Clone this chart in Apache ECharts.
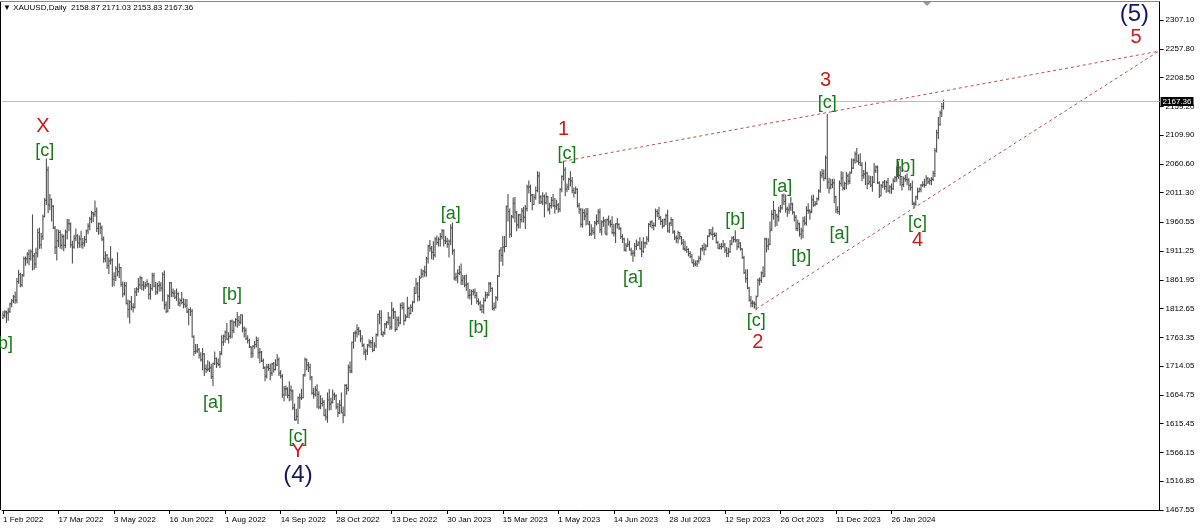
<!DOCTYPE html>
<html>
<head>
<meta charset="utf-8">
<script src="https://cdn.jsdelivr.net/npm/echarts@6/dist/echarts.min.js"></script>
<style>html,body{margin:0;padding:0;background:#fff}#c{width:1200px;height:529px}</style>
</head>
<body>
<div id="c"></div>
<script>
// ---- data ----
const symbolName = 'XAUUSD,Daily';
const xTickLabels = ['1 Feb 2022','17 Mar 2022','3 May 2022','16 Jun 2022','1 Aug 2022','14 Sep 2022','28 Oct 2022','13 Dec 2022','30 Jan 2023','15 Mar 2023','1 May 2023','14 Jun 2023','28 Jul 2023','12 Sep 2023','26 Oct 2023','11 Dec 2023','26 Jan 2024'];
const yTickLabels = ['2307.10','2257.80','2208.50','2159.20','2109.90','2060.60','2011.30','1960.55','1911.25','1861.95','1812.65','1763.35','1714.05','1664.75','1615.45','1566.15','1516.85','1467.55'];
// daily bars [open, high, low, close], one per trading day from 1 Feb 2022
const bars = [
[1797,1808,1795,1801],[1801,1810,1797,1807],[1807,1809,1788,1805],[1805,1814,1792,1808],[1808,1823,1805,1821],
[1821,1829,1815,1826],[1826,1836,1822,1833],[1833,1842,1821,1827],[1827,1865,1822,1859],[1859,1879,1855,1871],
[1871,1874,1849,1853],[1853,1872,1850,1870],[1870,1902,1867,1898],[1898,1902,1886,1898],[1898,1909,1890,1906],
[1906,1914,1887,1898],[1898,1914,1895,1910],[1910,1974,1878,1903],[1903,1908,1879,1889],[1889,1917,1882,1908],
[1908,1950,1900,1943],[1943,1951,1915,1922],[1922,1942,1915,1936],[1936,1974,1930,1970],[1970,2002,1969,1998],
[1998,2070,1990,2050],[2050,2056,1976,1990],[1990,2009,1981,2000],[2000,2001,1962,1988],[1988,1990,1949,1951],
[1951,1954,1906,1918],[1918,1949,1895,1929],[1929,1948,1918,1943],[1943,1947,1915,1921],[1921,1941,1914,1936],
[1936,1939,1911,1921],[1921,1948,1916,1944],[1944,1966,1931,1958],[1958,1966,1945,1958],[1958,1960,1917,1922],
[1922,1929,1890,1918],[1918,1939,1915,1933],[1933,1950,1928,1937],
[1937,1940,1916,1925],[1925,1938,1917,1932],[1932,1946,1917,1923],[1923,1934,1915,1925],[1925,1937,1919,1931],
[1931,1948,1925,1946],[1946,1959,1940,1954],[1954,1970,1947,1966],[1966,1980,1959,1977],[1977,1978,1961,1974],
[1974,1998,1970,1979],[1979,1986,1944,1950],[1950,1960,1939,1958],[1958,1960,1940,1951],[1951,1955,1928,1932],
[1932,1936,1891,1898],[1898,1911,1892,1904],[1904,1906,1881,1886],[1886,1900,1872,1894],[1894,1920,1888,1896],
[1896,1899,1850,1863],[1863,1875,1851,1868],[1868,1885,1860,1881],[1881,1909,1868,1876],[1876,1890,1865,1883],
[1883,1884,1850,1854],[1854,1859,1832,1838],[1838,1858,1835,1852],[1852,1858,1820,1821],[1821,1828,1797,1811],
[1811,1827,1787,1824],[1824,1834,1810,1815],[1815,1822,1806,1815],[1815,1848,1813,1841],[1841,1849,1834,1846],
[1846,1865,1840,1853],[1853,1869,1846,1865],[1865,1867,1844,1853],[1853,1860,1843,1851],[1851,1858,1846,1853],
[1853,1863,1849,1855],[1855,1857,1828,1837],
[1837,1855,1828,1847],[1847,1874,1843,1869],[1869,1874,1849,1851],[1851,1858,1836,1841],[1841,1857,1837,1852],
[1852,1860,1842,1853],[1853,1858,1842,1848],[1848,1875,1825,1871],[1871,1878,1811,1819],[1819,1825,1805,1808],
[1808,1837,1806,1834],[1834,1858,1812,1857],[1857,1858,1832,1840],[1840,1847,1832,1839],[1839,1844,1829,1832],
[1832,1847,1826,1838],[1838,1840,1817,1822],[1822,1830,1816,1827],[1827,1841,1820,1823],[1823,1830,1813,1820],
[1820,1829,1814,1817],[1817,1829,1805,1807],
[1807,1813,1784,1811],[1811,1815,1800,1808],[1808,1812,1763,1764],[1764,1767,1732,1739],[1739,1752,1735,1740],
[1740,1752,1737,1742],[1742,1745,1727,1733],[1733,1738,1722,1725],[1725,1745,1707,1735],[1735,1736,1697,1710],
[1710,1717,1702,1708],[1708,1724,1705,1709],[1709,1722,1704,1711],[1711,1718,1692,1696],[1696,1720,1680,1719],
[1719,1739,1716,1727],[1727,1729,1711,1719],[1719,1727,1714,1717],[1717,1740,1711,1735],[1735,1767,1733,1755],
[1755,1768,1749,1765],
[1765,1775,1754,1772],[1772,1788,1759,1760],[1760,1772,1753,1765],[1765,1793,1761,1791],[1791,1794,1762,1775],
[1775,1792,1771,1789],[1789,1796,1782,1794],[1794,1807,1780,1792],[1792,1800,1783,1789],[1789,1803,1786,1802],
[1802,1802,1772,1779],[1779,1782,1763,1775],[1775,1780,1759,1761],[1761,1767,1753,1758],[1758,1761,1745,1747],
[1747,1748,1728,1736],[1736,1750,1729,1748],[1748,1757,1744,1751],[1751,1765,1746,1758],[1758,1763,1727,1737],
[1737,1745,1719,1738],[1738,1740,1721,1723],[1723,1727,1709,1711],
[1711,1714,1688,1697],[1697,1718,1693,1712],[1712,1718,1706,1710],[1710,1718,1690,1702],[1702,1720,1697,1718],
[1718,1721,1703,1708],[1708,1726,1707,1716],[1716,1735,1714,1725],[1725,1729,1697,1702],[1702,1707,1693,1697],
[1697,1700,1660,1665],[1665,1680,1654,1675],[1675,1681,1663,1675],[1675,1678,1659,1664],[1664,1688,1654,1673],
[1673,1681,1655,1671],[1671,1674,1639,1643],[1643,1650,1621,1622],[1622,1641,1621,1628],[1628,1662,1615,1660],
[1660,1667,1641,1660],[1660,1675,1656,1660],
[1660,1700,1659,1699],[1699,1729,1696,1725],[1725,1727,1707,1716],[1716,1721,1704,1712],[1712,1718,1690,1695],
[1695,1697,1665,1668],[1668,1677,1658,1666],[1666,1680,1662,1673],[1673,1683,1642,1666],[1666,1671,1640,1644],
[1644,1664,1640,1650],[1650,1660,1645,1652],[1652,1656,1628,1630],[1630,1641,1621,1627],[1627,1669,1617,1656],
[1656,1675,1638,1649],[1649,1660,1639,1652],[1652,1674,1650,1665],[1665,1669,1656,1663],[1663,1666,1640,1644],
[1644,1651,1627,1634],
[1634,1656,1632,1647],[1647,1669,1634,1634],[1634,1645,1616,1630],[1630,1683,1628,1681],[1681,1683,1665,1676],
[1676,1717,1671,1712],[1712,1722,1702,1706],[1706,1756,1702,1755],[1755,1772,1744,1771],[1771,1775,1756,1771],
[1771,1786,1763,1777],[1777,1781,1767,1774],[1774,1776,1755,1761],[1761,1767,1747,1750],[1750,1753,1733,1738],
[1738,1744,1724,1740],[1740,1752,1733,1750],[1750,1760,1746,1755],[1755,1759,1745,1754],[1754,1764,1738,1741],
[1741,1755,1740,1749],[1749,1770,1745,1768],
[1768,1804,1765,1803],[1803,1810,1786,1797],[1797,1810,1767,1768],[1768,1774,1764,1771],[1771,1788,1768,1786],
[1786,1791,1779,1789],[1789,1807,1785,1797],[1797,1799,1776,1781],[1781,1824,1777,1810],[1810,1814,1795,1807],
[1807,1809,1773,1777],[1777,1799,1775,1793],[1793,1799,1782,1788],[1788,1822,1786,1818],[1818,1824,1811,1814],
[1814,1823,1784,1792],[1792,1803,1791,1798],[1798,1833,1797,1813],[1813,1816,1796,1804],[1804,1820,1803,1815],
[1815,1826,1807,1824],
[1824,1850,1822,1839],[1839,1865,1838,1855],[1855,1858,1825,1833],[1833,1869,1826,1865],[1865,1881,1865,1872],
[1872,1879,1866,1877],[1877,1886,1867,1875],[1875,1901,1867,1898],[1898,1922,1890,1920],[1920,1930,1910,1916],
[1916,1920,1897,1909],[1909,1928,1896,1904],[1904,1935,1900,1932],[1932,1938,1922,1926],[1926,1935,1919,1931],
[1931,1942,1919,1936],[1936,1949,1931,1946],[1946,1948,1919,1929],[1929,1937,1923,1928],[1928,1934,1917,1923],
[1923,1931,1900,1928],
[1928,1957,1921,1951],[1951,1960,1905,1912],[1912,1915,1861,1865],[1865,1874,1860,1867],[1867,1880,1856,1873],
[1873,1886,1870,1875],[1875,1890,1853,1861],[1861,1870,1853,1865],[1865,1870,1849,1853],[1853,1871,1843,1855],
[1855,1857,1830,1835],[1835,1846,1828,1836],[1836,1845,1819,1842],[1842,1846,1835,1841],[1841,1847,1830,1835],
[1835,1841,1821,1825],[1825,1830,1818,1822],[1822,1826,1809,1811],[1811,1820,1805,1817],[1817,1831,1804,1826],
[1826,1842,1825,1836],[1836,1841,1830,1836],[1836,1858,1834,1855],[1855,1858,1841,1847],[1847,1849,1810,1813],
[1813,1823,1809,1815],[1815,1834,1813,1831],[1831,1870,1826,1868],[1868,1913,1867,1913],[1913,1918,1893,1904],
[1904,1937,1886,1918],[1918,1937,1909,1919],[1919,1989,1918,1988],[1988,2009,1962,1979],[1979,1984,1934,1940],
[1940,1973,1935,1970],[1970,2003,1967,1993],[1993,2004,1960,1978],[1978,1980,1945,1956],[1956,1975,1950,1973],
[1973,1975,1950,1965],[1965,1985,1960,1980],[1980,1987,1960,1969],
[1969,1990,1949,1984],[1984,2025,1979,2021],[2021,2032,2010,2021],[2021,2025,1995,2007],[2007,2009,1981,1991],
[1991,2009,1990,2003],[2003,2022,1999,2015],[2015,2048,2012,2040],[2040,2047,1992,2004],[2004,2007,1992,1995],
[1995,2012,1990,2005],[2005,2008,1969,1994],[1994,2012,1991,2004],[2004,2006,1979,1983],[1983,1994,1974,1989],
[1989,2004,1984,1998],[1998,2009,1987,1989],[1989,2002,1975,1988],[1988,1999,1982,1990],
[1990,1993,1977,1983],[1983,2019,1978,2017],[2017,2041,2012,2039],[2039,2066,2032,2050],[2050,2055,2005,2017],
[2017,2027,2012,2021],[2021,2037,2016,2034],[2034,2048,2022,2031],[2031,2038,2010,2015],[2015,2020,2003,2011],
[2011,2022,2009,2017],[2017,2019,1986,1989],[1989,1994,1975,1982],[1982,1985,1952,1957],[1957,1984,1951,1977],
[1977,1983,1964,1971],[1971,1985,1955,1975],[1975,1985,1957,1957],[1957,1963,1937,1941],[1941,1957,1937,1946],
[1946,1952,1939,1943],[1943,1963,1932,1959],[1959,1974,1955,1962],
[1962,1983,1957,1978],[1978,1984,1942,1948],[1948,1964,1938,1961],[1961,1970,1953,1963],[1963,1966,1940,1940],
[1940,1967,1938,1965],[1965,1972,1955,1961],[1961,1965,1952,1957],[1957,1971,1940,1943],[1943,1958,1936,1942],
[1942,1959,1925,1958],[1958,1968,1950,1957],[1957,1959,1947,1950],[1950,1952,1932,1936],[1936,1940,1925,1932],
[1932,1934,1911,1913],[1913,1925,1910,1920],[1920,1933,1918,1923],[1923,1929,1912,1913],[1913,1917,1903,1907],
[1907,1913,1893,1908],[1908,1925,1902,1919],
[1919,1931,1913,1921],[1921,1928,1920,1925],[1925,1935,1914,1915],[1915,1928,1901,1911],[1911,1935,1908,1925],
[1925,1927,1916,1925],[1925,1937,1922,1932],[1932,1959,1927,1957],[1957,1963,1952,1961],[1961,1964,1950,1955],
[1955,1960,1947,1955],[1955,1984,1953,1979],[1979,1983,1969,1976],[1976,1987,1965,1969],[1969,1971,1956,1962],
[1962,1966,1950,1954],[1954,1967,1953,1965],[1965,1975,1956,1972],[1972,1982,1943,1946],[1946,1960,1942,1959],
[1959,1969,1954,1965],[1965,1966,1941,1944],[1944,1947,1930,1934],[1934,1938,1925,1933],[1933,1946,1924,1943],
[1943,1944,1931,1936],[1936,1937,1922,1925],[1925,1932,1913,1915],[1915,1929,1911,1913],[1913,1920,1908,1914],
[1914,1916,1902,1907],[1907,1911,1899,1902],[1902,1906,1891,1891],[1891,1897,1884,1889],[1889,1895,1885,1889],
[1889,1896,1884,1894],[1894,1903,1890,1899],[1899,1917,1895,1915],[1915,1922,1911,1917],[1917,1925,1904,1914],
[1914,1923,1912,1920],[1920,1938,1918,1937],[1937,1949,1935,1942],[1942,1949,1938,1940],[1940,1953,1930,1940],
[1940,1943,1935,1938],[1938,1943,1924,1926],[1926,1929,1915,1916],[1916,1924,1914,1919],[1919,1925,1914,1919],
[1919,1930,1917,1922],[1922,1925,1908,1913],[1913,1918,1901,1907],[1907,1917,1901,1910],[1910,1930,1908,1923],
[1923,1936,1921,1934],[1934,1937,1926,1931],[1931,1947,1926,1930],[1930,1932,1913,1919],[1919,1932,1916,1925],
[1925,1926,1912,1915],[1915,1916,1898,1900],[1900,1903,1872,1874],[1874,1880,1857,1864],[1864,1880,1846,1848],
[1848,1850,1825,1827],[1827,1834,1815,1822],[1822,1827,1815,1822],[1822,1825,1813,1820],[1820,1835,1810,1833],
[1833,1864,1833,1861],[1861,1866,1852,1861],[1861,1876,1857,1874],[1874,1885,1866,1868],[1868,1934,1867,1932],
[1932,1934,1909,1920],[1920,1933,1913,1923],[1923,1962,1921,1947],[1947,1981,1946,1974],[1974,1997,1965,1981],
[1981,1981,1953,1973],[1973,1975,1954,1970],[1970,1987,1962,1980],[1980,1990,1977,1985],[1985,2009,1982,2006],
[2006,2010,1990,1996],[1996,2008,1977,1983],
[1983,1987,1970,1982],[1982,1993,1975,1985],[1985,2004,1980,1992],[1992,1994,1974,1978],[1978,1979,1962,1969],
[1969,1973,1946,1950],[1950,1965,1945,1958],[1958,1960,1936,1940],[1940,1951,1931,1946],[1946,1970,1933,1963],
[1963,1971,1955,1959],[1959,1988,1955,1981],[1981,1993,1975,1980],[1980,1983,1965,1978],[1978,2007,1976,1999],
[1999,2008,1987,1990],[1990,1997,1988,1992],[1992,2003,1990,2001],[2001,2017,1998,2014],[2014,2048,2011,2041],
[2041,2052,2036,2044],[2044,2051,2031,2036],[2036,2075,2034,2071],
[2071,2146,2018,2029],[2029,2037,2010,2019],[2019,2035,2017,2025],[2025,2035,2019,2028],[2028,2035,1993,2004],
[2004,2006,1976,1982],[1982,1988,1975,1979],[1979,2032,1973,2027],[2027,2048,2022,2036],[2036,2047,2015,2019],
[2019,2030,2016,2027],[2027,2047,2017,2040],[2040,2044,2025,2031],[2031,2048,2026,2045],[2045,2070,2044,2053],
[2053,2070,2052,2067],[2067,2082,2061,2077],[2077,2088,2063,2065],[2065,2077,2059,2063],
[2063,2079,2057,2058],[2058,2064,2031,2041],[2041,2050,2035,2043],[2043,2064,2024,2045],[2045,2047,2017,2027],
[2027,2041,2025,2030],[2030,2040,2021,2024],[2024,2040,2013,2029],[2029,2062,2028,2049],[2049,2058,2045,2055],
[2055,2058,2026,2028],[2028,2031,2002,2006],[2006,2026,2005,2023],[2023,2031,2019,2029],[2029,2033,2016,2022],
[2022,2032,2011,2029],[2029,2037,2012,2014],[2014,2024,2010,2021],[2021,2027,2009,2018],
[2018,2036,2016,2031],[2031,2040,2029,2037],[2037,2056,2030,2039],[2039,2065,2035,2054],[2054,2057,2023,2039],
[2039,2040,2015,2025],[2025,2039,2021,2035],[2035,2042,2030,2034],[2034,2044,2024,2033],[2033,2036,2015,2024],
[2024,2028,2015,2020],[2020,2032,1990,1992],[1992,1996,1984,1992],[1992,2006,1989,2004],[2004,2020,1999,2013],
[2013,2020,2012,2017],[2017,2026,2012,2024],[2024,2031,2021,2025],[2025,2035,2020,2024],[2024,2041,2023,2035],
[2035,2038,2026,2030],[2030,2036,2025,2032],[2032,2038,2024,2034],[2034,2049,2031,2044],[2044,2088,2038,2083],
[2083,2119,2080,2114],[2114,2141,2103,2128],[2128,2152,2126,2148],[2148,2165,2141,2159],[2158.87,2171.03,2153.83,2167.36]
];
// wave labels: [text, bar index, price]
const greenLabels = [['[b]',0,1752],['[c]',24,2083],['[a]',121,1651],['[b]',132,1836],['[c]',170,1593],['[a]',258,1975],['[b]',274,1779],['[c]',325,2077],['[a]',363,1865],['[b]',422,1964],['[c]',434,1791],['[a]',449,2021],['[b]',460,1901],['[c]',475,2165],['[a]',482,1940],['[b]',520,2056],['[c]',527,1960]];
const redLabels = [['X',23,2124],['Y',170,1567],['1',323,2120],['2',435,1754],['3',474,2204],['4',527,1929],['5',653,2277]];
const navyLabels = [['(4)',170,1527],['(5)',652,2317]];
// trend lines: [bar index, price]
const upperLine = [[323,2065],[666,2253.6]];
const lowerLine = [[434,1812],[666,2253.6]];

// ---- chart ----
const nCats = 667;
const categories = Array.from({length:nCats},(_,i)=>String(i));
const last = bars[bars.length-1];
const yMin = 1467.55, yMax = 2337.94;
const barData = bars.map((b,i)=>[i,b[0],b[1],b[2],b[3]]);
const txt = (arr)=>arr.map(a=>({value:[a[1],a[2]],name:a[0]}));
const FONT = 'Liberation Sans, Arial, sans-serif';
const labelSeries = (arr,color,size)=>({
  type:'scatter', data:txt(arr), symbol:'circle', symbolSize:0.01, silent:true, z:5,
  itemStyle:{color:color,opacity:1},
  label:{show:true,position:'inside',formatter:p=>p.name,color:color,opacity:1,fontSize:size,fontFamily:FONT,
    align:'center',verticalAlign:'middle',textBorderWidth:0},
  emphasis:{disabled:true}
});
const chart = echarts.init(document.getElementById('c'),null,{renderer:'canvas'});
chart.setOption({
  animation:false,
  backgroundColor:'#ffffff',
  title:{text:'\u25BC '+symbolName+'  '+last.map(v=>v.toFixed(2)).join(' '),left:3,top:4,padding:0,
    textStyle:{fontSize:8,fontWeight:'normal',color:'#000',fontFamily:FONT}},
  grid:{left:0.6,right:40.4,top:2,bottom:19,containLabel:false},
  xAxis:{type:'category',data:categories,boundaryGap:true,
    axisLine:{show:true,lineStyle:{color:'#000',width:1}},
    axisTick:{show:true,alignWithLabel:true,length:4,interval:(i)=>i%32===0 && i/32<xTickLabels.length,lineStyle:{color:'#000'}},
    axisLabel:{show:true,interval:(i)=>i%32===0 && i/32<xTickLabels.length,formatter:(v,i)=>xTickLabels[i/32]||'',
      align:'left',margin:6,fontSize:8,color:'#000',fontFamily:FONT},
    splitLine:{show:false}},
  yAxis:{type:'value',position:'right',min:yMin,max:yMax,scale:true,
    axisLine:{show:true,lineStyle:{color:'#000',width:1}},
    axisTick:{show:true,length:4,customValues:yTickLabels.map(Number),lineStyle:{color:'#000'}},
    axisLabel:{show:true,customValues:yTickLabels.map(Number),formatter:v=>Number(v).toFixed(2),margin:6,fontSize:8,color:'#000',fontFamily:FONT},
    splitLine:{show:false}},
  graphic:[
    {type:'line',shape:{x1:0.5,y1:2,x2:0.5,y2:510},style:{stroke:'#000',lineWidth:1},silent:true},
    {type:'line',shape:{x1:0,y1:1.5,x2:1160,y2:1.5},style:{stroke:'#888',lineWidth:1},silent:true},
    {type:'polygon',shape:{points:[[923,2],[931,2],[927,6]]},style:{fill:'#999'},silent:true}
  ],
  series:[
    {type:'custom',data:barData,encode:{x:0,y:[1,2,3,4]},z:3,silent:true,clip:true,
      renderItem:(params,api)=>{
        const i=api.value(0);
        const ph=api.coord([i,api.value(2)]), pl=api.coord([i,api.value(3)]);
        const po=api.coord([i,api.value(1)]), pc=api.coord([i,api.value(4)]);
        const x=ph[0];
        const st={stroke:'#505050',lineWidth:1.1};
        return {type:'group',children:[
          {type:'line',shape:{x1:x,y1:ph[1],x2:x,y2:pl[1]},style:st},
          {type:'line',shape:{x1:x-1,y1:po[1],x2:x,y2:po[1]},style:st},
          {type:'line',shape:{x1:x,y1:pc[1],x2:x+1,y2:pc[1]},style:st}
        ]};
      }},
    {type:'line',data:upperLine,symbol:'none',silent:true,z:4,
      lineStyle:{color:'#b85050',width:1,type:[3,3]},
      markLine:{silent:true,symbol:['none','none'],animation:false,
        lineStyle:{color:'#bdbdbd',width:1,type:'solid'},
        label:{show:true,position:'end',distance:1,formatter:()=>last[3].toFixed(2),color:'#fff',backgroundColor:'#000',
          padding:[1,2,0,2],fontSize:8,fontFamily:FONT},
        data:[{yAxis:last[3]}]}},
    {type:'line',data:lowerLine,symbol:'none',silent:true,z:4,
      lineStyle:{color:'#b85050',width:1,type:[3,3]}},
    labelSeries(greenLabels,'#167a16',18),
    labelSeries(redLabels,'#d01818',20),
    labelSeries(navyLabels,'#141860',24)
  ]
});
</script>
</body>
</html>
